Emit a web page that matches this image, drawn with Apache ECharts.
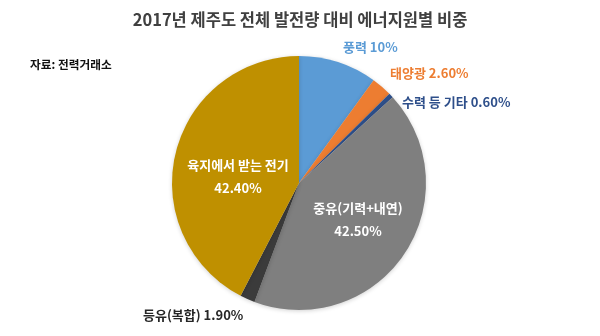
<!DOCTYPE html>
<html><head><meta charset="utf-8">
<script src="https://cdn.jsdelivr.net/npm/echarts@6/dist/echarts.min.js"></script>
<style>html,body{margin:0;padding:0;background:#fff}#c{width:600px;height:336px}</style>
</head><body><div id="c"></div>
<script>
const categories = ['풍력', '태양광', '수력 등 기타', '중유(기력+내연)', '등유(복합)', '육지에서 받는 전기'];
const values = [10, 2.6, 0.6, 42.5, 1.9, 42.4];
const valueLabels = ['10%', '2.60%', '0.60%', '42.50%', '1.90%', '42.40%'];
const colors = ['#5b9bd5', '#ed7d31', '#2e4f8a', '#7f7f7f', '#3b3b3b', '#bf9000'];
const labelColors = ['#5b9bd5', '#ed7d31', '#2e4f8a', '#ffffff', '#262626', '#ffffff'];
const inside = [false, false, false, true, false, true];
const labelPos = [[343, 47], [390, 73], [402, 102], [358, 220], [143, 315], [238, 177]];
const font = '"Noto Sans CJK KR", "Noto Sans", sans-serif';

const chart = echarts.init(document.getElementById('c'), null, {renderer: 'canvas'});
chart.setOption({
  animation: false,
  title: {
    text: '2017년 제주도 전체 발전량 대비 에너지원별 비중',
    left: 'center', top: 6,
    textStyle: {fontFamily: font, fontSize: 16.5, fontWeight: 'bold', color: '#404040'}
  },
  graphic: [{
    type: 'text', left: 30, top: 59,
    style: {text: '자료: 전력거래소', font: 'bold 11.7px ' + font, fill: '#111'}
  }],
  series: [{
    type: 'pie',
    center: [299, 183],
    radius: [0, 127],
    startAngle: 90,
    clockwise: true,
    data: categories.map((n, i) => ({
      name: n, value: values[i],
      itemStyle: {color: colors[i]},
      label: {
        color: labelColors[i],
        formatter: inside[i] ? '{b}\n{v|' + valueLabels[i] + '}' : '{b} ' + valueLabels[i],
        lineHeight: inside[i] ? 23 : 15
      }
    })),
    itemStyle: {borderWidth: 0, shadowBlur: 4, shadowOffsetY: 1, shadowColor: 'rgba(0,0,0,0.18)'},
    label: {
      show: true, position: 'outside',
      fontFamily: font, fontSize: 13, fontWeight: 'bold',
      rich: {v: {fontFamily: font, fontSize: 13, fontWeight: 'bold', color: '#fff', lineHeight: 23}}
    },
    labelLine: {show: false},
    labelLayout: function (p) {
      const i = p.dataIndex;
      return {x: labelPos[i][0], y: labelPos[i][1], align: inside[i] ? 'center' : 'left', verticalAlign: 'middle'};
    }
  }]
});
</script></body></html>
